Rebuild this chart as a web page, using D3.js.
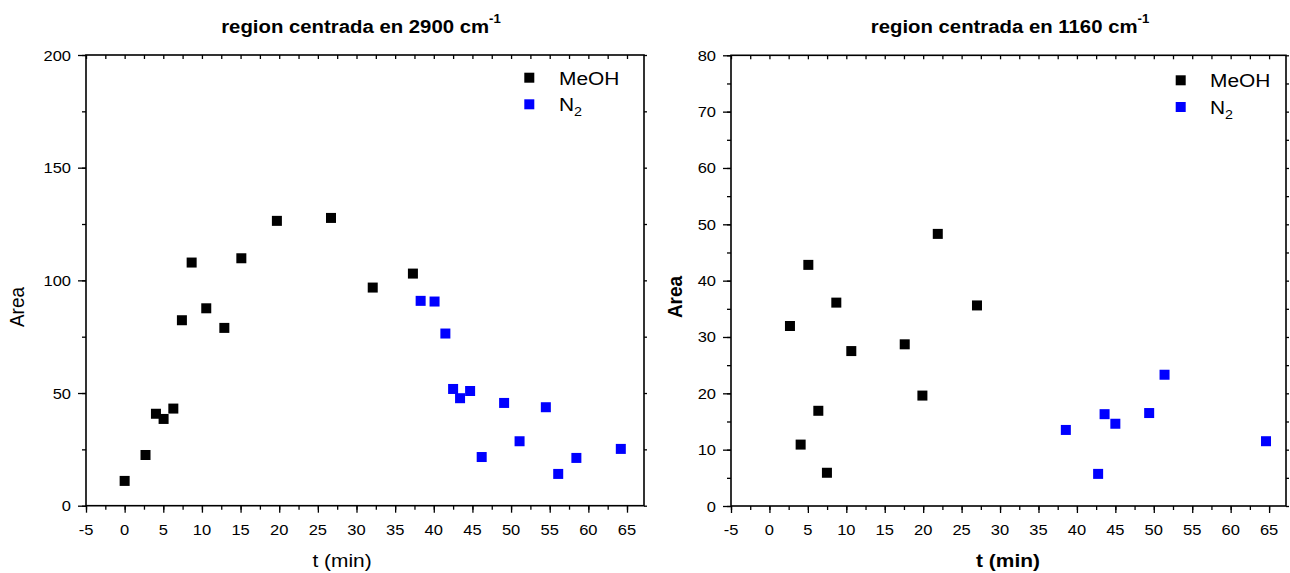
<!DOCTYPE html>
<html><head><meta charset="utf-8">
<script src="https://cdn.jsdelivr.net/npm/d3@7"></script>
<style>body{margin:0;background:#fff}svg{display:block}text{font-family:"Liberation Sans",Arial,sans-serif}</style>
</head><body>
<svg id="c" width="1290" height="573"></svg>
<script>
// ---- data ----
const xTicks = [-5,0,5,10,15,20,25,30,35,40,45,50,55,60,65];
const yTicksLeft = [0,50,100,150,200];
const yTicksRight = [0,10,20,30,40,50,60,70,80];

const meohT_2900 = [0,2.7,4.05,5.04,6.3,7.41,8.67,10.56,12.9,15.1,19.7,26.7,32.1,37.3];
const meohA_2900 = [11,22.5,40.8,38.5,43.1,82.3,107.9,87.6,78.9,109.8,126.4,127.7,96.8,103];
const n2T_2900 = [38.3,40.1,41.5,42.5,43.4,44.7,46.2,49.1,51.1,54.5,56.1,58.45,64.2];
const n2A_2900 = [90.9,90.6,76.4,51.8,47.7,50.9,21.6,45.6,28.6,43.7,14.1,21.2,25.2];

const meohT_1160 = [2.67,4.06,5.06,6.36,7.48,8.7,10.65,17.6,19.9,21.9,27.0];
const meohA_1160 = [31.95,10.9,42.8,16.9,5.9,36.1,27.5,28.7,19.6,48.3,35.6];
const n2T_1160 = [38.56,42.76,43.6,45.0,49.4,51.4,64.6];
const n2A_1160 = [13.5,5.7,16.3,14.6,16.5,23.3,11.5];

const seriesNames = ["MeOH","N"];
const colors = ["#000000","#0000ff"];

const svg = d3.select("#c");
const SX = 1.1; // horizontal text stretch

function txt(g, x, y, anchor, size, weight, rot) {
  return g.append("text")
    .attr("transform", `translate(${x},${y})` + (rot ? ` rotate(${rot}) scale(1,${SX})` : ` scale(${SX},1)`))
    .attr("text-anchor", anchor)
    .attr("font-size", size)
    .attr("font-weight", weight || "normal")
    .attr("fill", "#000");
}

function panel(cfg) {
  const x = d3.scaleLinear().domain([-5, 67.2]).range([cfg.x0, cfg.x1]);
  const y = d3.scaleLinear().domain([0, cfg.ymax]).range([cfg.y1, cfg.y0]);
  const g = svg.append("g");
  const minorX = d3.range(-5, 67.3, 2.5);
  const minorY = d3.range(0, cfg.ymax + 0.01, cfg.ystep / 2);

  g.append("g").attr("transform", `translate(0,${cfg.y1})`)
    .call(d3.axisBottom(x).tickValues(minorX).tickSize(4).tickFormat(""))
    .call(a => a.select(".domain").remove());
  g.append("g").attr("transform", `translate(0,${cfg.y1})`)
    .call(d3.axisBottom(x).tickValues(xTicks).tickSize(7).tickFormat(""))
    .call(a => a.select(".domain").remove());
  xTicks.forEach(v => txt(g, x(v), 535, "middle", 15).text(v));
  g.append("g").attr("transform", `translate(0,${cfg.y0})`)
    .call(d3.axisTop(x).tickValues(minorX).tickSize(-4).tickFormat(""))
    .call(a => a.select(".domain").remove());
  g.append("g").attr("transform", `translate(${cfg.x0},0)`)
    .call(d3.axisLeft(y).tickValues(minorY).tickSize(4).tickFormat(""))
    .call(a => a.select(".domain").remove());
  g.append("g").attr("transform", `translate(${cfg.x0},0)`)
    .call(d3.axisLeft(y).tickValues(cfg.yticks).tickSize(8).tickFormat(""))
    .call(a => a.select(".domain").remove());
  cfg.yticks.forEach(v => txt(g, cfg.x0 - 15, y(v) + 5.5, "end", 15).text(v));
  g.append("g").attr("transform", `translate(${cfg.x1},0)`)
    .call(d3.axisRight(y).tickValues(minorY).tickSize(3).tickFormat(""))
    .call(a => a.select(".domain").remove());
  g.selectAll(".tick line").attr("stroke", "#000").attr("stroke-width", 1.3);

  g.append("rect").attr("x", cfg.x0).attr("y", cfg.y0)
    .attr("width", cfg.x1 - cfg.x0).attr("height", cfg.y1 - cfg.y0)
    .attr("fill", "none").attr("stroke", "#000").attr("stroke-width", 1.6);

  const sets = [[cfg.mt, cfg.ma], [cfg.nt, cfg.na]];
  sets.forEach((s, i) => {
    g.append("g").selectAll("rect").data(s[0].map((t, k) => [t, s[1][k]])).join("rect")
      .attr("x", d => x(d[0]) - 5).attr("y", d => y(d[1]) - 5)
      .attr("width", 10).attr("height", 10).attr("fill", colors[i]);
  });

  const tt = txt(g, cfg.tcx, 33, "middle", 18.5, "bold");
  tt.append("tspan").text(cfg.title);
  tt.append("tspan").attr("font-size", 12).attr("dy", -10).text("-1");

  txt(g, cfg.txc, 567, "middle", 19, cfg.bold ? "bold" : "normal").text("t (min)");
  txt(g, cfg.ax, cfg.ay, "middle", 19, cfg.bold ? "bold" : "normal", -90).text("Area");

  const L = cfg.leg;
  g.append("rect").attr("x", L.mx - 5).attr("y", L.y1 - 5).attr("width", 10).attr("height", 10).attr("fill", colors[0]);
  g.append("rect").attr("x", L.mx - 5).attr("y", L.y2 - 5).attr("width", 10).attr("height", 10).attr("fill", colors[1]);
  txt(g, L.tx, L.y1 + 7, "start", 19).text(seriesNames[0]);
  const n = txt(g, L.tx, L.y2 + 7, "start", 19);
  n.append("tspan").text(seriesNames[1]);
  n.append("tspan").attr("font-size", 13).attr("dy", 5).text("2");
}

panel({x0: 86, x1: 644, y0: 55, y1: 505.7, ymax: 200, ystep: 50, yticks: yTicksLeft,
  mt: meohT_2900, ma: meohA_2900, nt: n2T_2900, na: n2A_2900,
  title: "region centrada en 2900 cm", tcx: 361, txc: 342, ax: 24, ay: 307, bold: false,
  leg: {mx: 529.3, y1: 77.7, y2: 104.3, tx: 559}});
panel({x0: 731, x1: 1286, y0: 55.3, y1: 506, ymax: 80, ystep: 10, yticks: yTicksRight,
  mt: meohT_1160, ma: meohA_1160, nt: n2T_1160, na: n2A_1160,
  title: "region centrada en 1160 cm", tcx: 1010, txc: 1008, ax: 682, ay: 297, bold: true,
  leg: {mx: 1180.7, y1: 80.3, y2: 107, tx: 1210}});
</script>
</body></html>
